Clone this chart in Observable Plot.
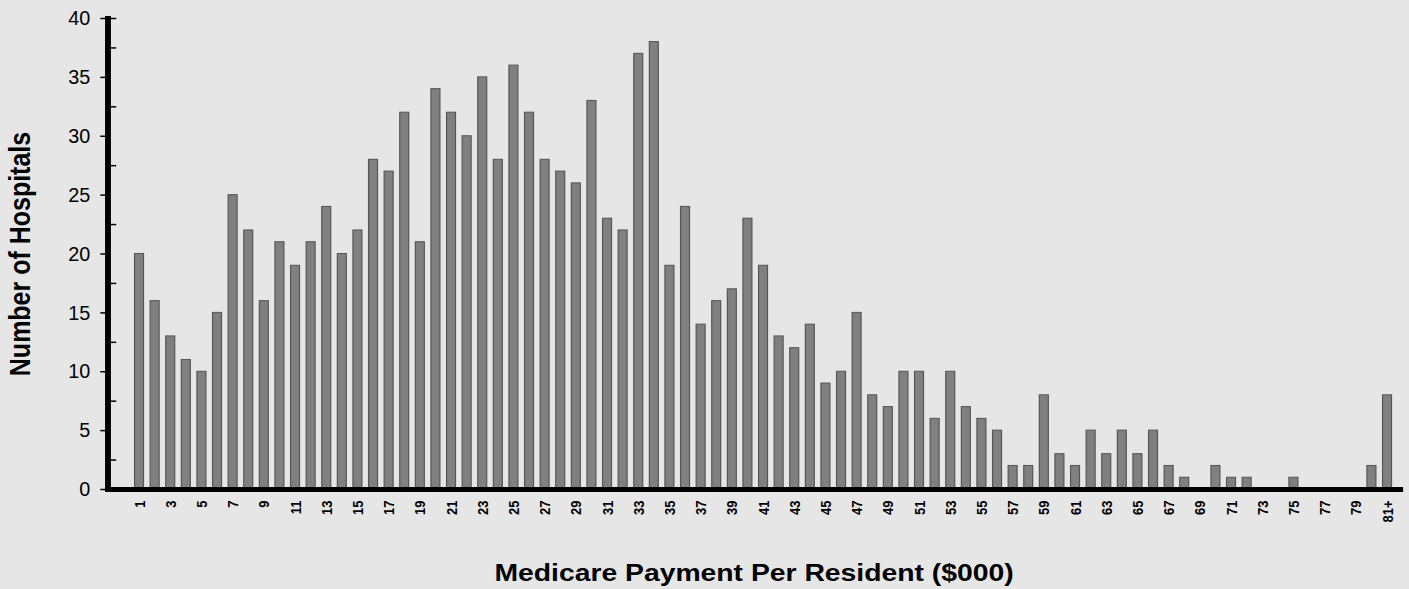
<!DOCTYPE html>
<html>
<head>
<meta charset="utf-8">
<script src="https://cdn.jsdelivr.net/npm/d3@7"></script>
<script src="https://cdn.jsdelivr.net/npm/@observablehq/plot@0.6"></script>
<style>
html, body { margin: 0; padding: 0; background: #e6e6e6; overflow: hidden; }
</style>
</head>
<body>
<div id="chart"></div>
<script>
const categories = ["1","2","3","4","5","6","7","8","9","10","11","12","13","14","15","16","17","18","19","20",
  "21","22","23","24","25","26","27","28","29","30","31","32","33","34","35","36","37","38","39","40",
  "41","42","43","44","45","46","47","48","49","50","51","52","53","54","55","56","57","58","59","60",
  "61","62","63","64","65","66","67","68","69","70","71","72","73","74","75","76","77","78","79","80","81+"];
const counts = [20,16,13,11,10,15,25,22,16,21,19,21,24,20,22,28,27,32,21,34,
  32,30,35,28,36,32,28,27,26,33,23,22,37,38,19,24,14,16,17,23,
  19,13,12,14,9,10,15,8,7,10,10,6,10,7,6,5,2,2,8,3,
  2,5,3,5,3,5,2,1,0,2,1,1,0,0,1,0,0,0,0,2,8];
const yTicks = [0,5,10,15,20,25,30,35,40];
const yMinorTicks = [2.5,7.5,12.5,17.5,22.5,27.5,32.5,37.5,40];
const xTickLabels = ["1","3","5","7","9","11","13","15","17","19","21","23","25","27","29","31","33","35","37","39",
  "41","43","45","47","49","51","53","55","57","59","61","63","65","67","69","71","73","75","77","79","81+"];
const yTitle = "Number of Hospitals";
const xTitle = "Medicare Payment Per Resident ($000)";

const data = categories.map((c, i) => ({category: c, count: counts[i]}));

const W = 1194, H = 589, OUT_W = 1409;
const sans = "'Liberation Sans', Arial, Helvetica, sans-serif";

const plot = Plot.plot({
  width: W,
  height: H,
  marginLeft: 91,
  marginRight: 8,
  marginTop: 18,
  marginBottom: 100,
  style: {background: "#e6e6e6", color: "#000", fontFamily: sans},
  x: {domain: categories, range: [108.4, 1184.8], padding: 0.425, round: false, label: null, axis: null},
  y: {domain: [0, 40], label: null},
  marks: [
    Plot.barY(data, {x: "category", y: "count", fill: "#808080", stroke: "#555", strokeWidth: 1}),
    Plot.axisY(yTicks, {anchor: "left", tickSize: 6, tickPadding: 9, fontSize: 21, strokeWidth: 1.5, label: null, className: "ylab"}),
    Plot.axisY(yMinorTicks, {anchor: "right", frameAnchor: "left", tickSize: 6.5, fill: "none", strokeWidth: 1.5, label: null}),
    Plot.text(xTickLabels, {x: d => d, frameAnchor: "bottom", dy: 11, rotate: -90, textAnchor: "end", lineAnchor: "middle", fontSize: 13, fontWeight: "bold", fill: "#000"}),
    Plot.frame({anchor: "left", strokeWidth: 5, strokeLinecap: "square"}),
    Plot.frame({anchor: "bottom", strokeWidth: 5, strokeLinecap: "square"}),
    Plot.text([yTitle], {frameAnchor: "left", dx: -74, rotate: -90, textAnchor: "middle", lineAnchor: "middle", fontSize: 25, fontWeight: "bold", fontFamily: sans}),
    Plot.text([xTitle], {frameAnchor: "bottom", dy: 84, textAnchor: "middle", lineAnchor: "middle", fontSize: 24, fontWeight: "bold", fontFamily: sans})
  ]
});

// condense the y tick labels around their right (anchor) edge, like the reference's narrow face
plot.querySelectorAll(".ylab text").forEach(t => {
  const ax = parseFloat(t.getAttribute("x"));
  const X = Number.isFinite(ax) ? ax : 0;
  const tr = t.getAttribute("transform") || "";
  t.setAttribute("transform", `${tr} translate(${X},0) scale(0.8,1) translate(${-X},0)`.trim());
});

plot.setAttribute("width", OUT_W);
plot.setAttribute("height", H);
plot.setAttribute("preserveAspectRatio", "none");
plot.style.maxWidth = "none";
plot.style.width = OUT_W + "px";
plot.style.height = H + "px";
document.getElementById("chart").appendChild(plot);
</script>
</body>
</html>
